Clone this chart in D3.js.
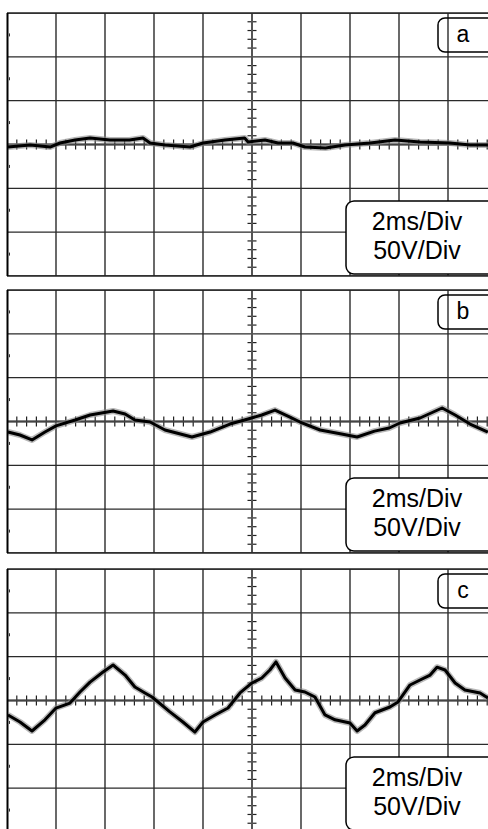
<!DOCTYPE html>
<html><head><meta charset="utf-8">
<script src="https://cdn.jsdelivr.net/npm/d3@7"></script>
<style>html,body{margin:0;padding:0;background:#fff;overflow:hidden}svg{display:block}</style>
</head><body>
<script>
// ---- data (time in ms, voltage in V) ----
const panelLabels = ["a", "b", "c"];
const timeLabel = "2ms/Div";
const voltLabel = "50V/Div";
const timeDomain = [0, 20];      // 10 div x 2 ms
const voltDomain = [-150, 150];  // 6 div x 50 V

const traceA_t = [0.04,0.94,1.76,2.16,2.78,3.39,4.2,5.0,5.55,5.84,6.45,7.47,8.0,8.9,9.7,9.84,10.53,11.06,11.67,12.16,13.0,13.8,14.82,15.84,16.86,18.08,18.9,19.63];
const traceA_v = [-2.9,-0.6,-2.9,1.7,5.1,7.4,5.1,5.1,7.4,1.7,-0.6,-2.9,1.7,5.1,7.4,2.9,5.1,1.7,1.7,-2.9,-4.0,-0.6,1.7,5.1,2.9,1.7,-0.6,-0.6];

const traceB_t = [0.04,0.53,1.02,1.55,2.0,2.78,3.39,4.33,4.82,5.22,5.84,6.45,7.55,8.29,9.1,9.84,10.4,10.94,11.55,11.96,12.78,13.6,14.29,15.0,15.6,16.04,16.86,17.76,18.29,18.9,19.63];
const traceB_v = [-12,-15.4,-21,-12,-5,1.7,7.4,12,8.6,1.7,-0.6,-9.7,-17.7,-12,-2.9,2.9,7.4,13,5,-0.6,-9.7,-14,-17.7,-11,-7.4,-1.7,4,15.4,7.4,-2.9,-12];

const traceC_t = [0.04,0.53,1.02,1.55,2.0,2.57,2.98,3.39,3.92,4.33,4.82,5.22,5.63,5.92,6.65,7.18,7.67,8.0,8.49,9.02,9.51,10.0,10.4,10.73,10.98,11.35,11.76,12.16,12.57,12.98,13.39,14.0,14.29,14.61,15.02,15.63,15.96,16.45,16.86,17.27,17.55,17.88,18.29,18.69,19.31,19.63];
const traceC_v = [-16.5,-24.5,-34.8,-22,-8.6,-2.9,9.7,21,32.5,40.5,29,15.4,8.6,4,-13,-24.5,-36,-24.5,-16.5,-8.6,8.6,20,25.7,34.8,44,25.7,12,9.7,4,-16.5,-22,-25.7,-34.8,-28,-14,-7.4,-1.7,17.7,23.4,29,38,34.8,20,12,8.6,2.9];

const traces = [
  {t: traceA_t, v: traceA_v},
  {t: traceB_t, v: traceB_v},
  {t: traceC_t, v: traceC_v}
];

// ---- layout ----
const W = 488, H = 829;
const panelTops = [13, 290, 569];
const panelLeft = 7, panelW = 490, panelH = 263;

const svg = d3.select("body").append("svg").attr("width", W).attr("height", H);
const defs = svg.append("defs");

panelTops.forEach((top, i) => {
  const x = d3.scaleLinear().domain(timeDomain).range([panelLeft, panelLeft + panelW]);
  const y = d3.scaleLinear().domain(voltDomain).range([top + panelH, top]);
  const clipId = "clip" + i;
  defs.append("clipPath").attr("id", clipId).append("rect")
    .attr("x", panelLeft).attr("y", top).attr("width", panelW).attr("height", panelH);

  const g = svg.append("g");
  const gc = g.append("g").attr("clip-path", `url(#${clipId})`);

  // grid
  const xGrid = d3.range(timeDomain[0], timeDomain[1] + 0.001, 2);
  const yGrid = d3.range(voltDomain[0], voltDomain[1] + 0.001, 50);
  gc.selectAll(".vg").data(xGrid).join("line")
    .attr("x1", d => x(d)).attr("x2", d => x(d))
    .attr("y1", top).attr("y2", top + panelH)
    .attr("stroke", "#2a2a2a").attr("stroke-width", 1.4);
  gc.selectAll(".hg").data(yGrid).join("line")
    .attr("x1", panelLeft).attr("x2", panelLeft + panelW)
    .attr("y1", d => y(d)).attr("y2", d => y(d))
    .attr("stroke", "#2a2a2a").attr("stroke-width", 1.4);

  // minor ticks on center axes
  const xMinor = d3.range(timeDomain[0], timeDomain[1] + 0.001, 0.4).filter(d => Math.abs(d / 2 - Math.round(d / 2)) > 0.01);
  gc.selectAll(".xm").data(xMinor).join("line")
    .attr("x1", d => x(d)).attr("x2", d => x(d))
    .attr("y1", y(0) - 5).attr("y2", y(0) + 5)
    .attr("stroke", "#222").attr("stroke-width", 1.2);
  const yMinor = d3.range(voltDomain[0], voltDomain[1] + 0.001, 10).filter(d => d % 50 !== 0);
  gc.selectAll(".ym").data(yMinor).join("line")
    .attr("x1", x(10) - 4.5).attr("x2", x(10) + 4.5)
    .attr("y1", d => y(d)).attr("y2", d => y(d))
    .attr("stroke", "#222").attr("stroke-width", 1.2);
  gc.append("line").attr("x1", x(10)).attr("x2", x(10)).attr("y1", top).attr("y2", top + panelH)
    .attr("stroke", "#555").attr("stroke-width", 2);
  gc.append("line").attr("x1", panelLeft).attr("x2", panelLeft + panelW).attr("y1", y(0)).attr("y2", y(0))
    .attr("stroke", "#444").attr("stroke-width", 1.8);

  // left border marks
  const halfDiv = d3.range(voltDomain[0] + 25, voltDomain[1], 50);
  gc.selectAll(".lm").data(halfDiv).join("line")
    .attr("x1", panelLeft + 2.5).attr("x2", panelLeft + 2.5)
    .attr("y1", d => y(d) - 1.5).attr("y2", d => y(d) + 1.5)
    .attr("stroke", "#333").attr("stroke-width", 1);

  // trace
  const tr = traces[i];
  const pts = tr.t.map((t, k) => [x(t), y(tr.v[k])]);
  const line = d3.line();
  gc.append("path").attr("d", line(pts)).attr("fill", "none")
    .attr("stroke", "#888").attr("stroke-width", 6).attr("stroke-linejoin", "round").attr("opacity", 0.6);
  gc.append("path").attr("d", line(pts)).attr("fill", "none")
    .attr("stroke", "#000").attr("stroke-width", 3).attr("stroke-linejoin", "round");

  // borders
  g.append("line").attr("x1", panelLeft).attr("x2", panelLeft + panelW).attr("y1", top).attr("y2", top)
    .attr("stroke", "#222").attr("stroke-width", 1.6);
  g.append("line").attr("x1", panelLeft).attr("x2", panelLeft + panelW).attr("y1", top + panelH).attr("y2", top + panelH)
    .attr("stroke", "#222").attr("stroke-width", 1.6);
  g.append("line").attr("x1", panelLeft + 0.5).attr("x2", panelLeft + 0.5).attr("y1", top).attr("y2", top + panelH)
    .attr("stroke", "#000").attr("stroke-width", 2);

  // label box (transparent)
  g.append("rect").attr("x", 438).attr("y", top + 5).attr("width", 70).attr("height", 34).attr("rx", 7)
    .attr("fill", "none").attr("stroke", "#000").attr("stroke-width", 1.5);
  g.append("text").attr("x", 463).attr("y", top + 29).attr("text-anchor", "middle")
    .attr("font-family", "Liberation Sans, Arial, sans-serif").attr("font-size", 23).text(panelLabels[i]);

  // scale box (white)
  const by = top + 188;
  g.append("rect").attr("x", 346).attr("y", by).attr("width", 150).attr("height", 73).attr("rx", 8)
    .attr("fill", "#fff").attr("stroke", "#000").attr("stroke-width", 1.5);
  g.append("text").attr("x", 417).attr("y", by + 29).attr("text-anchor", "middle")
    .attr("font-family", "Liberation Sans, Arial, sans-serif").attr("font-size", 25).text(timeLabel);
  g.append("text").attr("x", 417).attr("y", by + 58).attr("text-anchor", "middle")
    .attr("font-family", "Liberation Sans, Arial, sans-serif").attr("font-size", 25).text(voltLabel);
});
</script>
</body></html>
